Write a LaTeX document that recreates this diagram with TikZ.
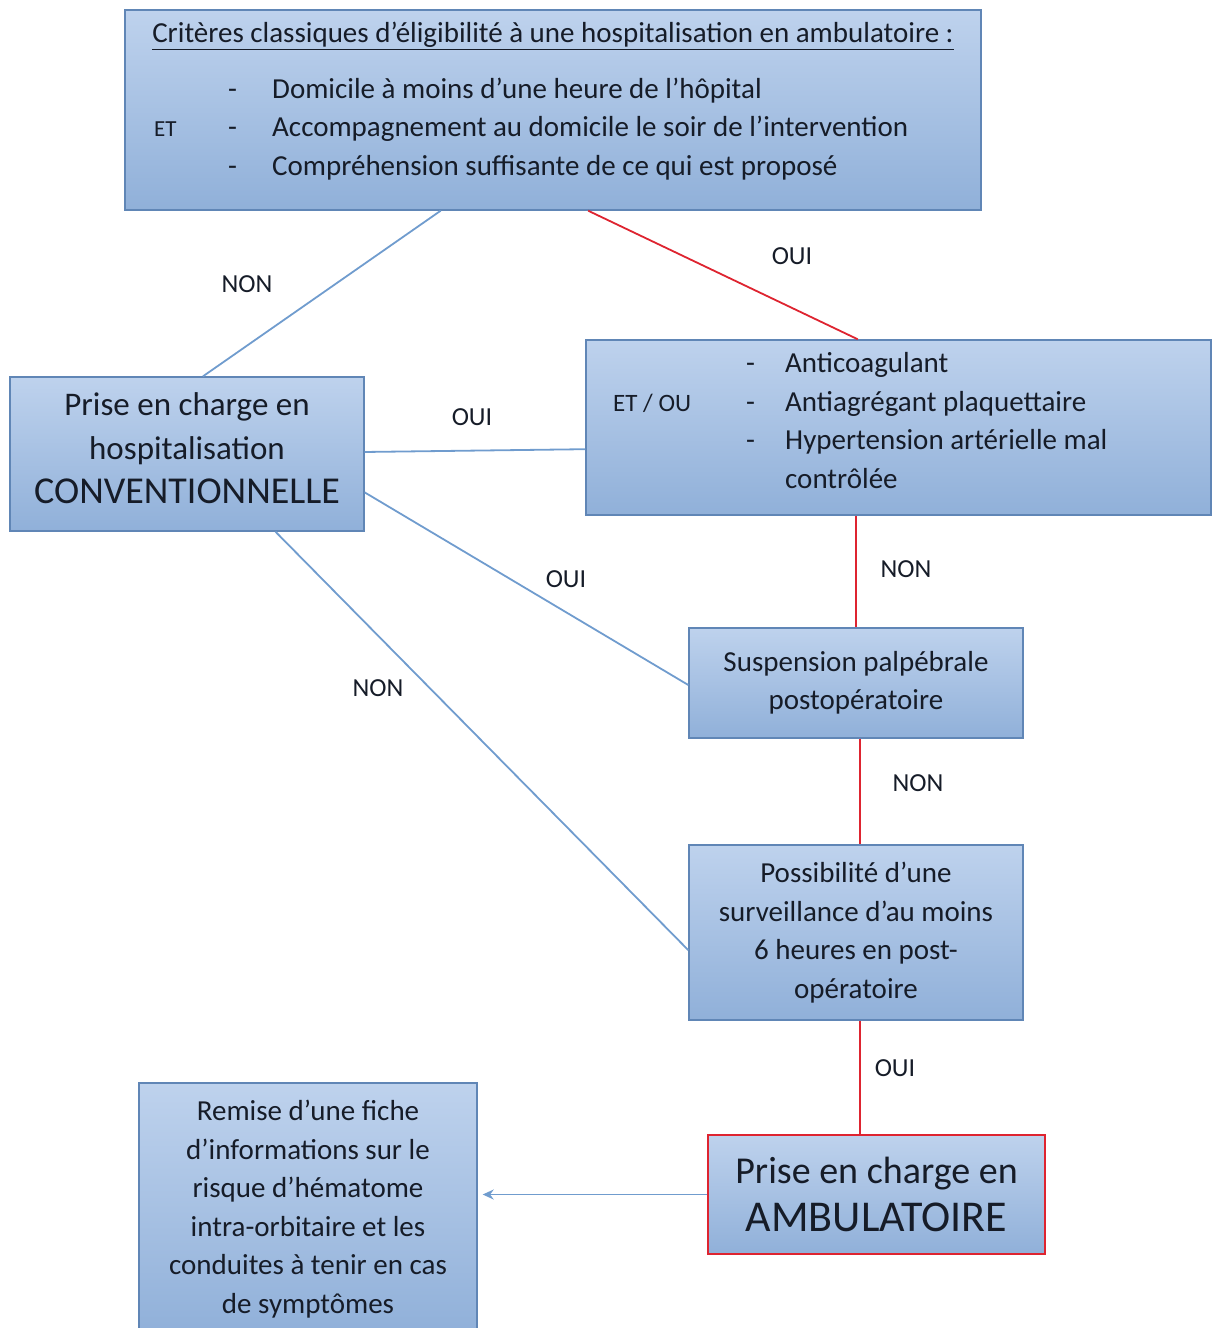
\documentclass[tikz,border=0pt]{standalone}
\usepackage{fontspec}
\setmainfont{Carlito}
\usepackage{tikz}
\usetikzlibrary{calc,arrows.meta}
\definecolor{boxtop}{RGB}{190,210,237}
\definecolor{boxbot}{RGB}{144,176,217}
\definecolor{boxline}{RGB}{96,134,182}
\definecolor{linkblue}{RGB}{112,156,206}
\definecolor{linkred}{RGB}{222,36,48}
\definecolor{inktext}{RGB}{22,28,40}
\tikzstyle{every node}=[inner sep=0pt, text=inktext]
\tikzset{stage/.style={draw=boxline, line width=1.4pt, top color=boxtop, bottom color=boxbot,
      align=center, font=\fontsize{29}{38.5}\selectfont}}
\tikzset{nolink/.style={draw=linkblue, line width=1.8pt}}
\tikzset{redlink/.style={draw=linkred, line width=1.8pt}}
\tikzset{answer/.style={font=\fontsize{26}{30}\selectfont}}

\begin{document}
\begin{tikzpicture}[x=1pt,y=-1pt]
    \useasboundingbox (0,0) rectangle (1214,1328);
    \clip (0,0) rectangle (1214,1328);
    % boxes
    \node[stage, minimum width=856pt, minimum height=200pt] (crit) at (553,110) {};
    \node[font=\fontsize{29}{34}\selectfont] (crittitle) at (553,36)
      {\underline{Critères classiques d’éligibilité à une hospitalisation en ambulatoire :}};
    \node[anchor=west, font=\fontsize{29}{38.5}\selectfont] (critlist) at (154,129)
      {\begin{tabular}{@{}p{74pt}@{}p{44pt}@{}l@{}}
        & - & Domicile à moins d’une heure de l’hôpital\\
        {\fontsize{23}{26}\selectfont ET} & - & Accompagnement au domicile le soir de l’intervention\\
        & - & Compréhension suffisante de ce qui est proposé
       \end{tabular}};
    \node[stage, minimum width=354pt, minimum height=154pt, font=\fontsize{33}{44}\selectfont,
          text depth=12pt] (conv) at (187,454)
      {Prise en charge en\\hospitalisation\\{\fontsize{38}{44}\selectfont CONVENTIONNELLE}};
    \node[stage, minimum width=625pt, minimum height=175pt] (anti) at (898.5,427.5) {};
    \node[anchor=west, font=\fontsize{29}{38.5}\selectfont] (antilist) at (613,423)
      {\begin{tabular}{@{}p{133pt}@{}p{39pt}@{}l@{}}
        & - & Anticoagulant\\
        {\fontsize{25}{26}\selectfont ET / OU} & - & Antiagrégant plaquettaire\\
        & - & Hypertension artérielle mal\\
        & & contrôlée
       \end{tabular}};
    \node[stage, minimum width=334pt, minimum height=110pt] (susp) at (856,683)
      {Suspension palpébrale\\postopératoire};
    \node[stage, minimum width=334pt, minimum height=175pt] (poss) at (856,932.5)
      {Possibilité d’une\\surveillance d’au moins\\6 heures en post-\\opératoire};
    \node[stage, draw=linkred, minimum width=337pt, minimum height=119pt, font=\fontsize{38}{48}\selectfont] (amb) at (876.5,1194.5)
      {Prise en charge en\\{\fontsize{44}{48}\selectfont AMBULATOIRE}};
    \node[stage, minimum width=338pt, minimum height=252pt] (info) at (308,1209)
      {Remise d’une fiche\\d’informations sur le\\risque d’hématome\\intra-orbitaire et les\\conduites à tenir en cas\\de symptômes};
    % links
    \coordinate (suspfoot) at ($(susp.south)+(4,0)$);
    \coordinate (possfoot) at ($(poss.south)+(4,0)$);
    \draw[nolink] ($(crit.south west)!0.369!(crit.south east)$) -- ($(conv.north west)!0.545!(conv.north east)$);
    \draw[redlink] ($(crit.south west)!0.541!(crit.south east)$) -- ($(anti.north west)!0.435!(anti.north east)$);
    \draw[nolink] ($(conv.north east)!0.487!(conv.south east)$) -- ($(anti.north west)!0.623!(anti.south west)$);
    \draw[nolink] ($(conv.north east)!0.747!(conv.south east)$) -- ($(susp.north west)!0.518!(susp.south west)$);
    \draw[nolink] ($(conv.south west)!0.749!(conv.south east)$) -- ($(poss.north west)!0.6!(poss.south west)$);
    \draw[redlink] (susp.north |- anti.south) -- (susp.north);
    \draw[redlink] (suspfoot) -- (suspfoot |- poss.north);
    \draw[redlink] (possfoot) -- (possfoot |- amb.north);
    \draw[nolink, -{Stealth[length=11pt,width=10pt]}, shorten >=5pt] (amb.west) -- (info.east |- amb.west);
    % answers
    \node[answer] (nonA) at (247,284) {NON};
    \node[answer] (ouiA) at (792,256) {OUI};
    \node[answer] (ouiB) at (472,417) {OUI};
    \node[answer] (ouiC) at (566,579) {OUI};
    \node[answer] (nonB) at (378,688) {NON};
    \node[answer] (nonC) at (906,569) {NON};
    \node[answer] (nonD) at (918,783) {NON};
    \node[answer] (ouiD) at (895,1068) {OUI};
\end{tikzpicture}
\end{document}
